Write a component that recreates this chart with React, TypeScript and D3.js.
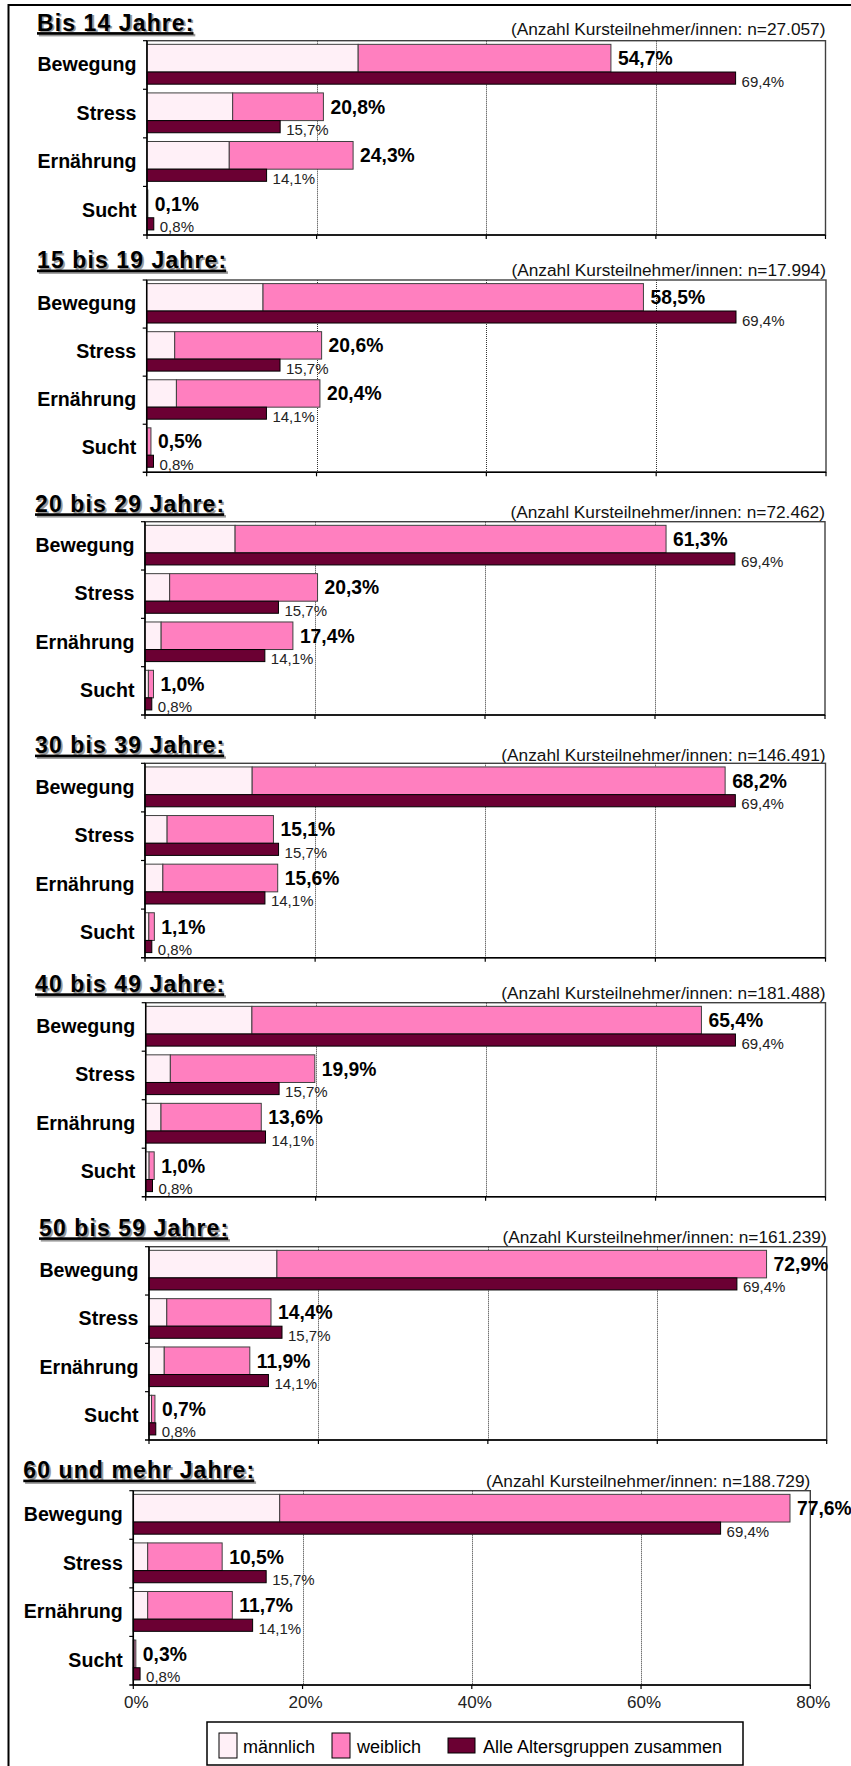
import React, { useLayoutEffect, useRef, useState } from "react";
import * as d3 from "d3";

// ---------------- DATA ----------------
const ageGroups = [
  "Bis 14 Jahre:",
  "15 bis 19 Jahre:",
  "20 bis 29 Jahre:",
  "30 bis 39 Jahre:",
  "40 bis 49 Jahre:",
  "50 bis 59 Jahre:",
  "60 und mehr Jahre:",
];
const participants = ["27.057", "17.994", "72.462", "146.491", "181.488", "161.239", "188.729"];
const categories = ["Bewegung", "Stress", "Ernährung", "Sucht"];
const alleAltersgruppen = [69.4, 15.7, 14.1, 0.8];

const maennlich = [
  [24.9, 10.1, 9.7, 0.05],
  [13.7, 3.3, 3.5, 0.05],
  [10.6, 2.9, 1.9, 0.4],
  [12.6, 2.6, 2.1, 0.45],
  [12.5, 2.9, 1.8, 0.4],
  [15.1, 2.1, 1.8, 0.3],
  [17.3, 1.7, 1.7, 0.1],
];
const weiblich = [
  [29.8, 10.7, 14.6, 0.05],
  [44.8, 17.3, 16.9, 0.45],
  [50.7, 17.4, 15.5, 0.6],
  [55.6, 12.5, 13.5, 0.65],
  [52.9, 17.0, 11.8, 0.6],
  [57.8, 12.3, 10.1, 0.4],
  [60.3, 8.8, 10.0, 0.2],
];
const xTicks = [0, 20, 40, 60, 80];
const legendLabels = ["männlich", "weiblich", "Alle Altersgruppen zusammen"];

// ---------------- LAYOUT / STYLE ----------------
const W = 851;
const H = 1766;
const FONT = "'Liberation Sans', Arial, Helvetica, sans-serif";
const C_M = "#FFF0F7";
const C_W = "#FF7FBF";
const C_A = "#6B0033";

const layout = [
  { x0: 147, x1: 825.5, top: 40.7, bottom: 235, titleX: 37, titleUp: 10.2, nUp: 5.5 },
  { x0: 146.7, x1: 826, top: 280, bottom: 472.3, titleX: 37, titleUp: 12, nUp: 4 },
  { x0: 145, x1: 825, top: 521.7, bottom: 715, titleX: 35, titleUp: 10, nUp: 4 },
  { x0: 145, x1: 825.5, top: 763.3, bottom: 957.7, titleX: 35, titleUp: 10.3, nUp: 2.8 },
  { x0: 145.7, x1: 825.5, top: 1002.7, bottom: 1196.7, titleX: 35, titleUp: 11, nUp: 3.4 },
  { x0: 149, x1: 826.7, top: 1246.7, bottom: 1440, titleX: 39, titleUp: 11, nUp: 3.4 },
  { x0: 133.3, x1: 810.3, top: 1490.7, bottom: 1685, titleX: 23.3, titleUp: 12.7, nUp: 4 },
];

const fmt = (v: number) => v.toFixed(1).replace(".", ",") + "%";
const px = (v: number) => Math.round(v) + 0.5;

function Title({ x, y, text }: { x: number; y: number; text: string }) {
  const ref = useRef<SVGTextElement>(null);
  const [w, setW] = useState(text.length * 12);
  useLayoutEffect(() => {
    if (ref.current) setW(ref.current.getComputedTextLength());
  }, [text]);
  const common = {
    fontFamily: FONT,
    fontWeight: "bold" as const,
    fontSize: 23,
    letterSpacing: 1.1,
  };
  return (
    <g>
      <text x={x + 1.8} y={y + 1.8} fill="#9a9a9a" {...common}>
        {text}
      </text>
      <rect x={x + 1.8} y={y + 3.3} width={w - 1} height={2.6} fill="#9a9a9a" />
      <text ref={ref} x={x} y={y} fill="#000" {...common}>
        {text}
      </text>
      <rect x={x} y={y + 1.6} width={w - 1} height={2.6} fill="#000" />
    </g>
  );
}

function Panel({ i, last }: { i: number; last: boolean }) {
  const L = layout[i];
  const x = d3.scaleLinear().domain([0, 80]).range([L.x0, L.x1]);
  const y = d3.scaleBand<string>().domain(categories).range([L.top, L.bottom]);
  const bw = y.bandwidth();
  const sOff = bw * 0.075;
  const sH = bw * 0.57;
  const aH = bw * 0.25;

  return (
    <g>
      <Title x={L.titleX} y={L.top - L.titleUp} text={ageGroups[i]} />
      {/* n label */}
      <text x={L.x1} y={L.top - L.nUp} textAnchor="end" fontFamily={FONT} fontSize={17.3} fill="#111">
        {`(Anzahl Kursteilnehmer/innen: n=${participants[i]})`}
      </text>

      {/* plot area */}
      <rect x={L.x0} y={L.top} width={L.x1 - L.x0} height={L.bottom - L.top} fill="#fff" stroke="#404040" strokeWidth={1.4} />
      {xTicks.slice(1, -1).map((t) => (
        <line key={t} x1={px(x(t))} x2={px(x(t))} y1={L.top} y2={L.bottom} stroke="#333" strokeWidth={1} strokeDasharray="1,1" />
      ))}

      {/* bars */}
      {categories.map((c, k) => {
        const by = (y(c) as number) + sOff;
        const m = maennlich[i][k];
        const w = weiblich[i][k];
        const tot = m + w;
        const a = alleAltersgruppen[k];
        return (
          <g key={c}>
            <rect x={x(0)} y={by} width={x(m) - x(0)} height={sH} fill={C_M} stroke="#404040" strokeWidth={1} />
            <rect x={x(m)} y={by} width={x(tot) - x(m)} height={sH} fill={C_W} stroke="#404040" strokeWidth={1} />
            <rect x={x(0)} y={by + sH} width={x(a) - x(0)} height={aH} fill={C_A} stroke="#000" strokeWidth={1} />
            <text
              x={x(tot) + 7}
              y={by + sH / 2}
              dy="0.36em"
              fontFamily={FONT}
              fontWeight="bold"
              fontSize={19.3}
              fill="#000"
            >
              {fmt(tot)}
            </text>
            <text x={x(a) + 6} y={by + sH + aH + 2.5} fontFamily={FONT} fontSize={15} fill="#222">
              {fmt(a)}
            </text>
            <text
              x={L.x0 - 10.5}
              y={(y(c) as number) + bw / 2 + 6}
              textAnchor="end"
              fontFamily={FONT}
              fontWeight="bold"
              fontSize={19.6}
              fill="#000"
            >
              {c}
            </text>
          </g>
        );
      })}

      {/* axes */}
      <line x1={L.x0} x2={L.x0} y1={L.top} y2={L.bottom} stroke="#000" strokeWidth={1.5} />
      <line x1={L.x0 - 4} x2={L.x1} y1={L.bottom} y2={L.bottom} stroke="#000" strokeWidth={1.5} />
      {categories.map((c) => (
        <line key={c} x1={L.x0 - 4} x2={L.x0} y1={y(c) as number} y2={y(c) as number} stroke="#000" strokeWidth={1.2} />
      ))}
      {xTicks.map((t) => (
        <line key={t} x1={x(t)} x2={x(t)} y1={L.bottom} y2={L.bottom + 4} stroke="#000" strokeWidth={1.2} />
      ))}
      {last &&
        xTicks.map((t) => (
          <text key={t} x={x(t) + 3} y={L.bottom + 23} textAnchor="middle" fontFamily={FONT} fontSize={17} fill="#222">
            {`${t}%`}
          </text>
        ))}
    </g>
  );
}

export default function App() {
  return (
    <svg
      width={W}
      height={H}
      viewBox={`0 0 ${W} ${H}`}
      style={{ position: "absolute", left: 0, top: 0, display: "block", background: "#fff" }}
    >
      <rect x={0} y={0} width={W} height={H} fill="#fff" />
      {/* outer frame */}
      <line x1={8.5} x2={W + 5} y1={5} y2={5} stroke="#000" strokeWidth={2} />
      <line x1={8.5} x2={8.5} y1={4} y2={H + 5} stroke="#000" strokeWidth={2} />

      {ageGroups.map((g, i) => (
        <Panel key={g} i={i} last={i === ageGroups.length - 1} />
      ))}

      {/* legend */}
      <g>
        <rect x={207} y={1722} width={536} height={43} fill="#fff" stroke="#000" strokeWidth={1.5} />
        <rect x={219} y={1733} width={18} height={25} fill={C_M} stroke="#000" strokeWidth={1} />
        <text x={243} y={1753} fontFamily={FONT} fontSize={18} fill="#000">{legendLabels[0]}</text>
        <rect x={332} y={1733} width={18} height={25} fill={C_W} stroke="#000" strokeWidth={1} />
        <text x={357} y={1753} fontFamily={FONT} fontSize={18} fill="#000">{legendLabels[1]}</text>
        <rect x={448} y={1738} width={27} height={15} fill={C_A} stroke="#000" strokeWidth={1} />
        <text x={483} y={1753} fontFamily={FONT} fontSize={18} fill="#000">{legendLabels[2]}</text>
      </g>
    </svg>
  );
}
